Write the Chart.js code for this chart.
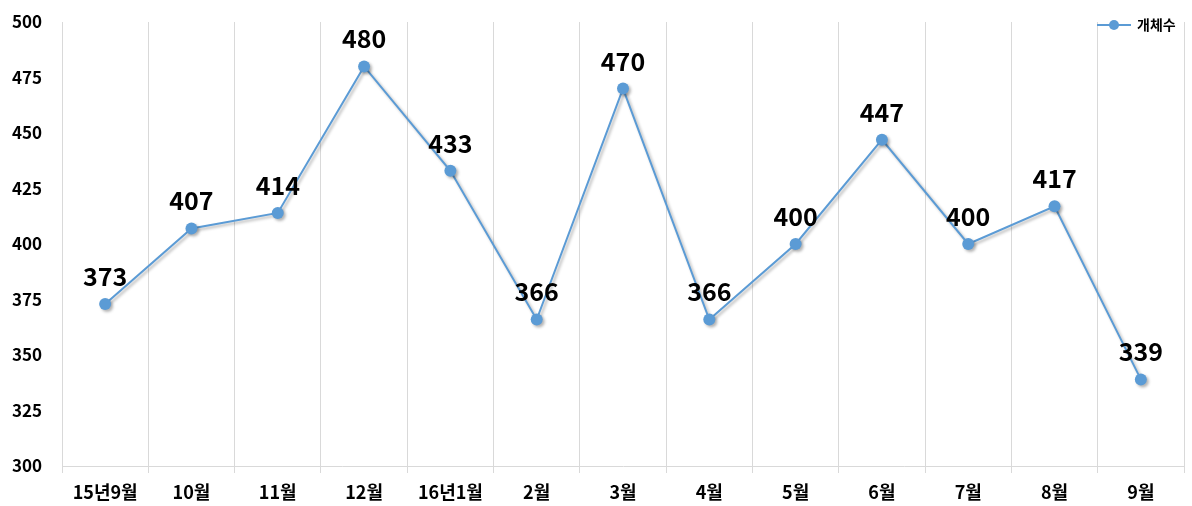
<!DOCTYPE html>
<html>
<head>
<meta charset="utf-8">
<script src="https://cdn.jsdelivr.net/npm/chart.js@4.4.1/dist/chart.umd.min.js"></script>
<style>
  html, body { margin: 0; padding: 0; background: #fff; }
  #wrap { width: 1192px; height: 506px; }
</style>
</head>
<body>
<div id="wrap"><canvas id="countChart"></canvas></div>
<script>
const months = ['15년9월', '10월', '11월', '12월', '16년1월', '2월', '3월', '4월', '5월', '6월', '7월', '8월', '9월'];
const counts = [373, 407, 414, 480, 433, 366, 470, 366, 400, 447, 400, 417, 339];
const seriesName = '개체수';
const yTicks = [300, 325, 350, 375, 400, 425, 450, 475, 500];

const blue = '#5B9BD5';

// value labels above each point
const valueLabels = {
    id: 'valueLabels',
    afterDatasetsDraw(chart) {
        const ctx = chart.ctx;
        const meta = chart.getDatasetMeta(0);
        ctx.save();
        ctx.font = 'bold 25px "Noto Sans CJK KR", "Open Sans", sans-serif';
        ctx.fillStyle = '#000';
        ctx.textAlign = 'center';
        ctx.textBaseline = 'alphabetic';
        meta.data.forEach((pt, i) => {
            ctx.fillText(counts[i], pt.x, pt.y - 18);
        });
        ctx.restore();
    }
};

// excel-ish legend in the top right corner of the plot
const cornerLegend = {
    id: 'cornerLegend',
    afterDraw(chart) {
        const ctx = chart.ctx;
        const x = 1097, y = 25;
        ctx.save();
        ctx.strokeStyle = blue;
        ctx.lineWidth = 2;
        ctx.beginPath();
        ctx.moveTo(x, y);
        ctx.lineTo(x + 34, y);
        ctx.stroke();
        ctx.fillStyle = blue;
        ctx.beginPath();
        ctx.arc(x + 17, y, 5, 0, Math.PI * 2);
        ctx.fill();
        ctx.fillStyle = '#000';
        ctx.font = 'bold 14px "Noto Sans CJK KR", sans-serif';
        ctx.textBaseline = 'middle';
        ctx.fillText(chart.data.datasets[0].label, x + 40, y);
        ctx.restore();
    }
};

// soft shadow under the markers
const markerShadow = {
    id: 'markerShadow',
    beforeDatasetsDraw(chart) {
        const ctx = chart.ctx;
        ctx.save();
        ctx.shadowColor = 'rgba(0,0,0,0.3)';
        ctx.shadowBlur = 3;
        ctx.shadowOffsetX = 2;
        ctx.shadowOffsetY = 2;
    },
    afterDatasetsDraw(chart) {
        chart.ctx.restore();
    }
};

new Chart(document.getElementById('countChart'), {
    type: 'line',
    data: {
        labels: months,
        datasets: [{
            label: seriesName,
            data: counts,
            borderColor: blue,
            backgroundColor: blue,
            borderWidth: 2,
            pointRadius: 6,
            pointHoverRadius: 6,
            pointBackgroundColor: blue,
            pointBorderWidth: 0,
            tension: 0
        }]
    },
    options: {
        responsive: true,
        maintainAspectRatio: false,
        animation: false,
        layout: { padding: { top: 22, right: 8, left: 0, bottom: 2 } },
        plugins: {
            legend: { display: false },
            tooltip: { enabled: false }
        },
        scales: {
            x: {
                offset: true,
                afterFit(axis) { axis.height = 38; },
                grid: {
                    offset: true,
                    color: '#d9d9d9',
                    drawTicks: true,
                    tickLength: 7,
                    tickColor: '#d9d9d9'
                },
                border: { color: '#d9d9d9' },
                ticks: {
                    color: '#000',
                    font: { family: '"Noto Sans CJK KR", sans-serif', size: 18, weight: 'bold' },
                    padding: 8,
                    maxRotation: 0,
                    autoSkip: false
                }
            },
            y: {
                min: 300,
                max: 500,
                afterBuildTicks(axis) {
                    axis.ticks = yTicks.map(v => ({ value: v }));
                },
                afterFit(axis) {
                    axis.width = 62;
                    axis.paddingTop = 0;
                    axis.paddingBottom = 0;
                },
                grid: { display: false },
                border: { display: false },
                ticks: {
                    color: '#000',
                    font: { family: '"Noto Sans CJK KR", sans-serif', size: 17, weight: 'bold' },
                    padding: 12
                }
            }
        }
    },
    plugins: [markerShadow, valueLabels, cornerLegend]
});
</script>
</body>
</html>
